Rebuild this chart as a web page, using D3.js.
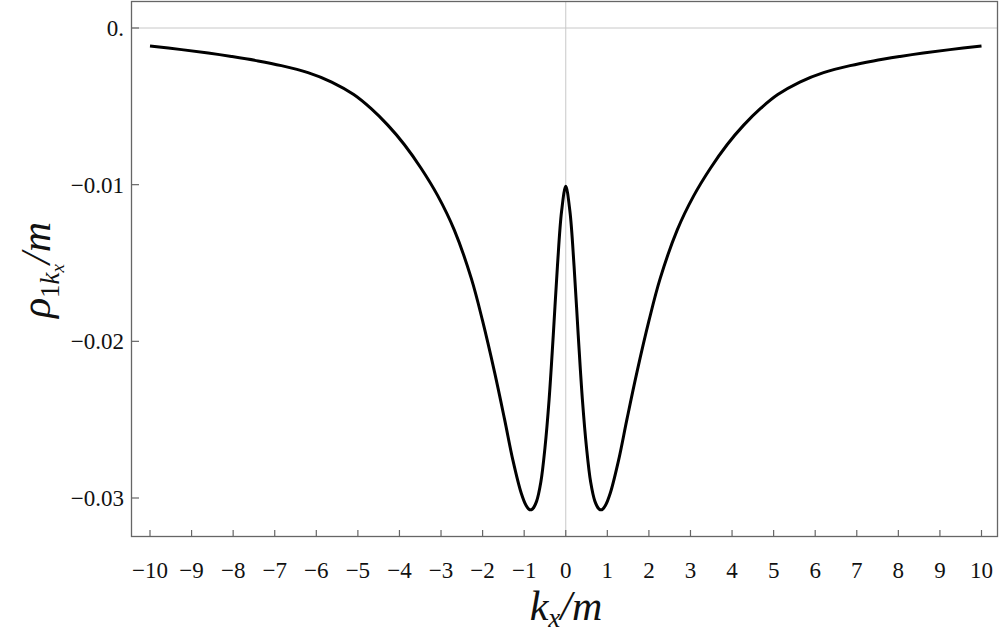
<!DOCTYPE html>
<html><head><meta charset="utf-8">
<script src="https://cdn.jsdelivr.net/npm/d3@7"></script>
<style>body{margin:0;background:#fff}svg{display:block}</style>
</head><body><svg id="c" width="1000" height="638" font-family="'Liberation Serif', 'Times New Roman', Times, 'DejaVu Serif', serif"></svg>
<script>
const kValues = [-10,-9.24,-8.6,-8.04,-7.4,-6.84,-6.2,-5.63,-5.1,-4.68,-4.28,-3.88,-3.48,-3.08,-2.68,-2.27,-2.0,-1.71,-1.47,-1.27,-1.07,-0.95,-0.87,-0.8,-0.7,-0.6,-0.5,-0.4,-0.3,-0.2,-0.1,0,
  0.1,0.2,0.3,0.4,0.5,0.6,0.7,0.8,0.87,0.95,1.07,1.27,1.47,1.71,2.0,2.27,2.68,3.08,3.48,3.88,4.28,4.68,5.1,5.63,6.2,6.84,7.4,8.04,8.6,9.24,10];
const rhoValues = [-0.00115,-0.00138,-0.00160,-0.00182,-0.00210,-0.00240,-0.00285,-0.00345,-0.00425,-0.00515,-0.00620,-0.00745,-0.00895,-0.0107,-0.0129,-0.0160,-0.0187,-0.0220,-0.0250,-0.0276,-0.0297,-0.0305,-0.03075,-0.0307,-0.0302,-0.0290,-0.0268,-0.0237,-0.0196,-0.0152,-0.0117,-0.0101,
  -0.0117,-0.0152,-0.0196,-0.0237,-0.0268,-0.0290,-0.0302,-0.0307,-0.03075,-0.0305,-0.0297,-0.0276,-0.0250,-0.0220,-0.0187,-0.0160,-0.0129,-0.0107,-0.00895,-0.00745,-0.00620,-0.00515,-0.00425,-0.00345,-0.00285,-0.00240,-0.00210,-0.00182,-0.00160,-0.00138,-0.00115];
const xTicks = d3.range(-10, 11, 1);
const yTicks = [0, -0.01, -0.02, -0.03];
const yTickLabels = ["0.", "\u22120.01", "\u22120.02", "\u22120.03"];

const svg = d3.select("#c");
const x = d3.scaleLinear().domain([-10, 10]).range([150, 981.5]);
const y = d3.scaleLinear().domain([0, -0.03]).range([28, 498]);
const L = 131, R = 998, T = 1, B = 537;
const frame = "#666";

// gridlines
svg.append("line").attr("x1", x(0)).attr("x2", x(0)).attr("y1", T).attr("y2", B).attr("stroke", "#c8c8c8").attr("stroke-width", 1);
svg.append("line").attr("x1", L).attr("x2", R).attr("y1", y(0)).attr("y2", y(0)).attr("stroke", "#c8c8c8").attr("stroke-width", 1);

// curve
const data = kValues.map((k, i) => [k, rhoValues[i]]);
svg.append("path").datum(data)
  .attr("d", d3.line().x(d => x(d[0])).y(d => y(d[1])).curve(d3.curveCatmullRom.alpha(0.5)))
  .attr("fill", "none").attr("stroke", "#000").attr("stroke-width", 3).attr("stroke-linejoin", "round");

// frame
svg.append("rect").attr("x", L + 0.5).attr("y", T + 0.5).attr("width", R - L - 1).attr("height", B - T - 1)
  .attr("fill", "none").attr("stroke", frame).attr("stroke-width", 1.3);

// x axis ticks
const gx = svg.append("g");
xTicks.forEach(t => {
  gx.append("line").attr("x1", x(t)).attr("x2", x(t)).attr("y1", B).attr("y2", B - 7).attr("stroke", frame).attr("stroke-width", 1.2);
  gx.append("text").attr("x", x(t)).attr("y", 578).attr("text-anchor", "middle").attr("font-size", 23).attr("fill", "#111")
    .text(t < 0 ? "\u2212" + Math.abs(t) : String(t));
});
// y axis ticks
const gy = svg.append("g");
yTicks.forEach((t, i) => {
  gy.append("line").attr("x1", L).attr("x2", L + 8).attr("y1", y(t)).attr("y2", y(t)).attr("stroke", frame).attr("stroke-width", 1.2);
  gy.append("text").attr("x", 124).attr("y", y(t) + 8).attr("text-anchor", "end").attr("font-size", 23).attr("fill", "#111")
    .text(yTickLabels[i]);
});

// x title
const xt = svg.append("text").attr("x", 566).attr("y", 620).attr("text-anchor", "middle").attr("font-size", 42).attr("font-style", "italic").attr("fill", "#111");
xt.append("tspan").text("k");
xt.append("tspan").attr("font-size", 27).attr("dy", 7).text("x");
xt.append("tspan").attr("dy", -7).text("/m");

// y title
const yt = svg.append("text").attr("transform", "translate(50,270) rotate(-90)").attr("text-anchor", "middle").attr("font-size", 42).attr("fill", "#111");
yt.append("tspan").attr("font-style", "italic").text("\u03C1");
yt.append("tspan").attr("font-size", 27).attr("dy", 9).text("1");
yt.append("tspan").attr("font-size", 27).attr("font-style", "italic").text("k");
yt.append("tspan").attr("font-size", 19).attr("font-style", "italic").attr("dy", 5).text("x");
yt.append("tspan").attr("font-style", "italic").attr("dy", -14).text("/m");
</script></body></html>
